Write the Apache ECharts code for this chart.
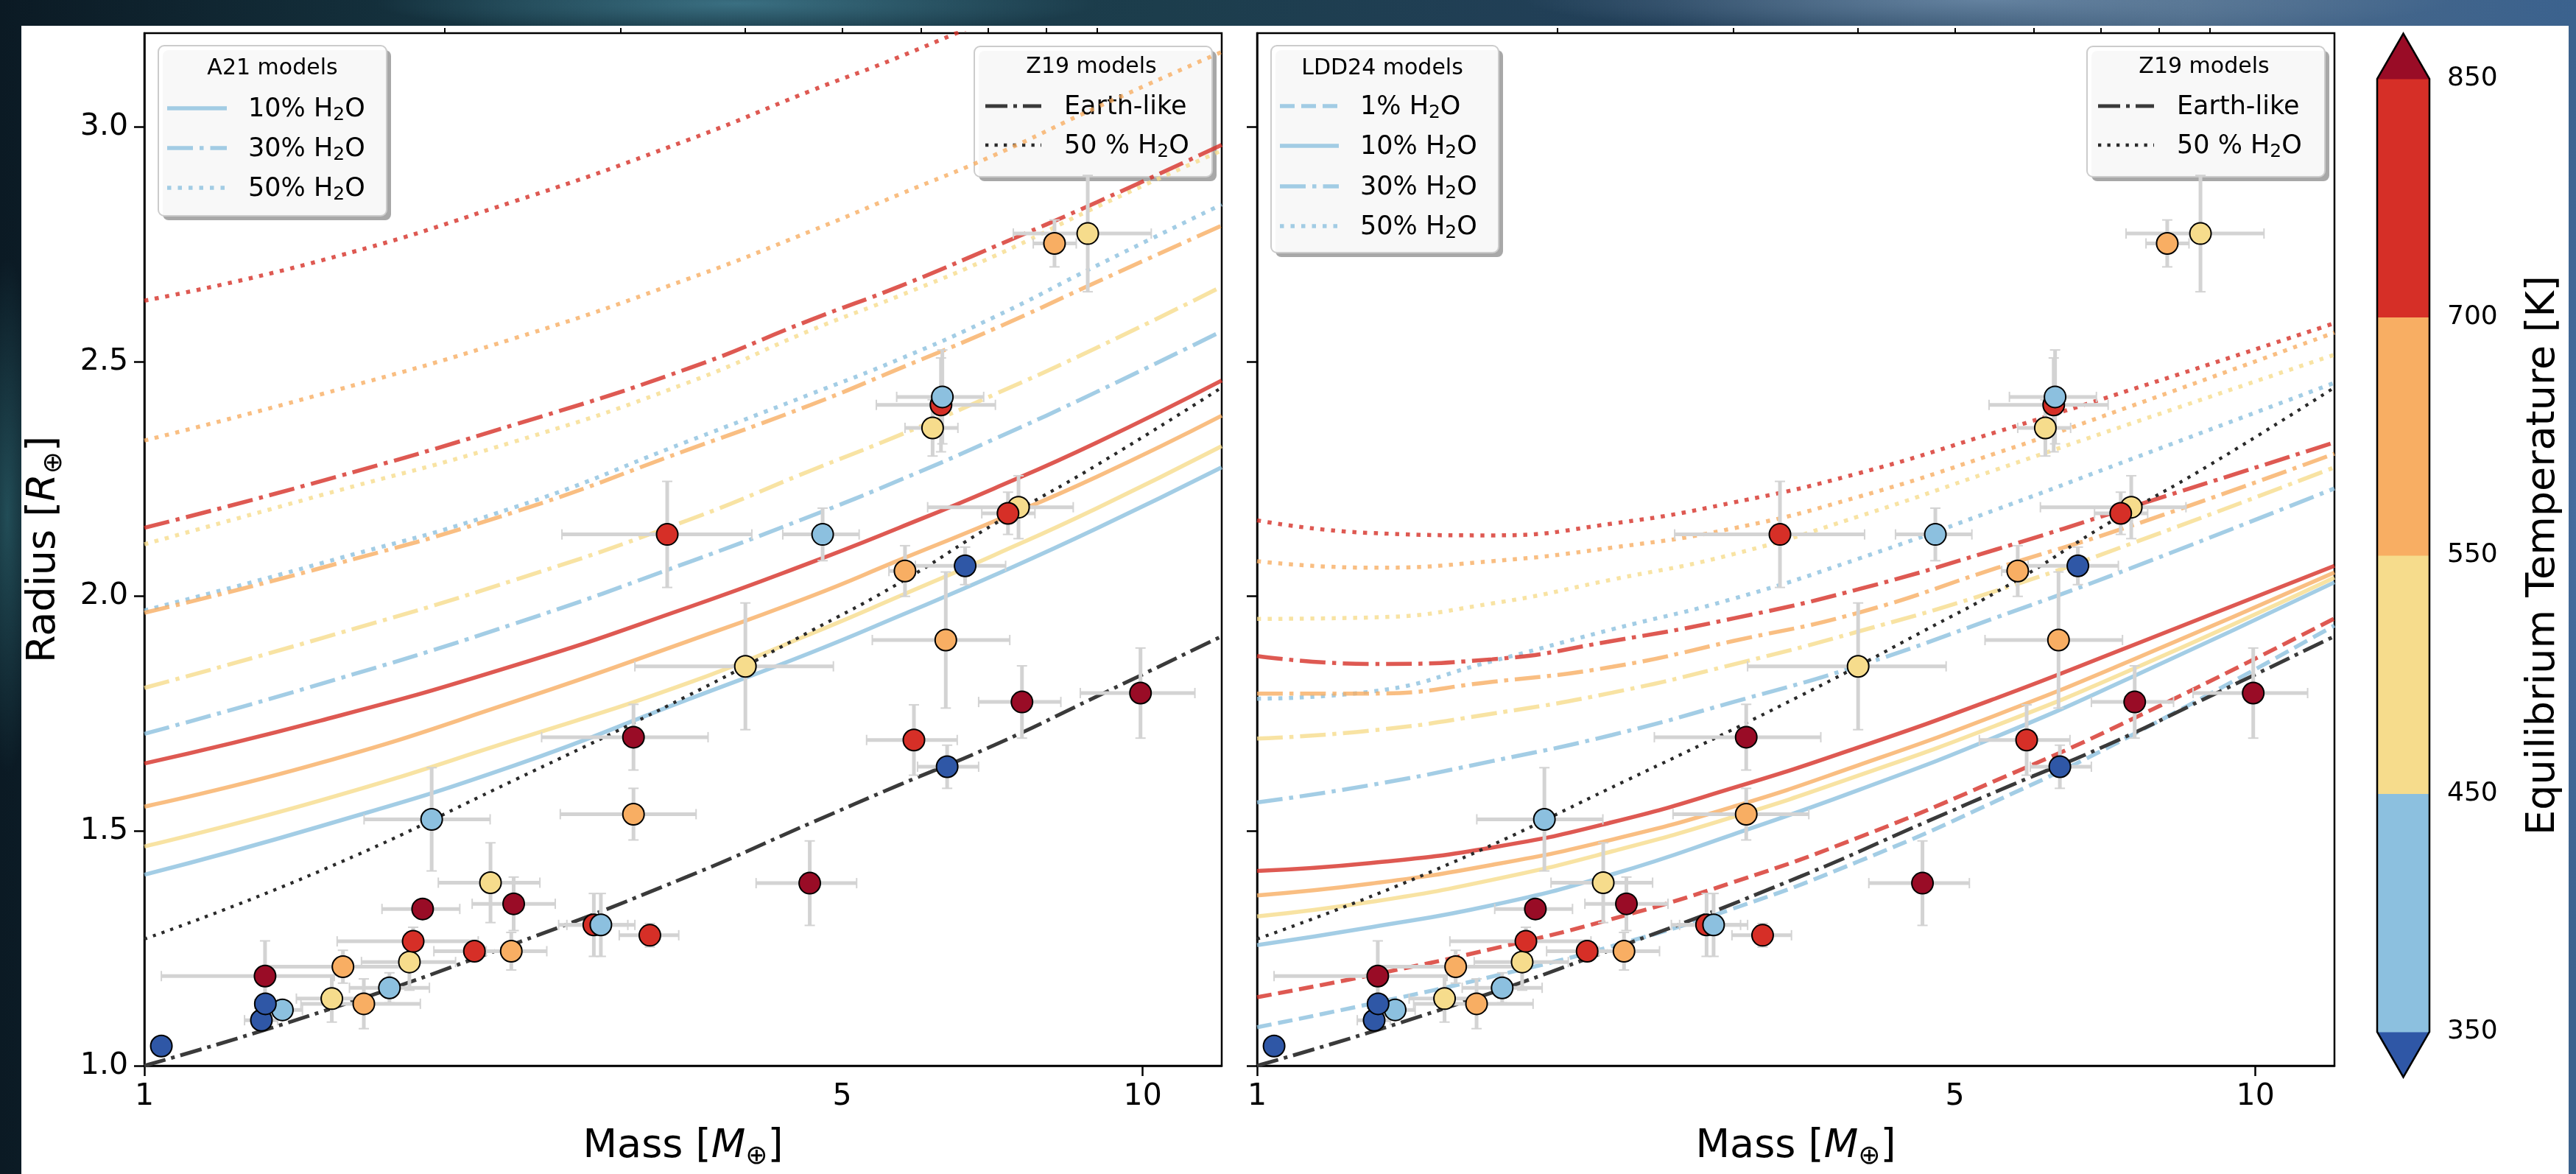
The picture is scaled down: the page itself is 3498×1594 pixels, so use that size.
<!DOCTYPE html>
<html>
<head>
<meta charset="utf-8">
<script src="https://cdn.jsdelivr.net/npm/echarts@6/dist/echarts.min.js"></script>
<style>
html,body{margin:0;padding:0;width:3498px;height:1594px;overflow:hidden;background:#0f2230;}
#bg{position:absolute;left:0;top:0;width:3498px;height:1594px;
 background:
  radial-gradient(ellipse 700px 60px at 1000px 5px, rgba(70,130,150,0.75), rgba(0,0,0,0) 70%),
  radial-gradient(ellipse 900px 70px at 2700px 0px, rgba(110,140,170,0.8), rgba(0,0,0,0) 70%),
  radial-gradient(ellipse 60px 500px at 10px 700px, rgba(40,90,100,0.8), rgba(0,0,0,0) 70%),
  radial-gradient(ellipse 60px 900px at 3498px 700px, rgba(70,110,160,0.9), rgba(0,0,0,0) 70%),
  linear-gradient(90deg, #0b1a24 0%, #173744 20%, #1c3d4c 45%, #23405a 65%, #4a6886 85%, #3b628e 100%);}
#paper{position:absolute;left:29px;top:35px;width:3459px;height:1559px;background:#fff;}
#chart{position:absolute;left:0;top:0;width:3498px;height:1594px;}
</style>
</head>
<body>
<div id="bg"></div>
<div id="paper"></div>
<div id="chart"></div>
<script>
// colour classes (equilibrium temperature, K)
var tempBounds = [350, 450, 550, 700, 850];
var classColors = ['#2f57a6', '#8cc0df', '#f6dc8c', '#f8ae63', '#d62f27', '#990c26'];

// planets: mass [M_earth], radius [R_earth], error bars, Teq
var planetMass   = [1.04, 1.31, 1.375, 1.322, 1.321, 1.541, 1.659, 1.581, 1.76, 1.843, 1.859, 1.90, 2.141, 2.331, 2.222, 2.344, 1.94, 2.82, 2.866, 3.209, 3.09, 3.09, 4.0, 4.64, 5.9, 6.37, 6.35, 7.57, 9.95, 3.34, 4.78, 5.78, 6.64, 7.51, 7.33, 6.16, 6.28, 6.3, 8.16, 8.81];
var planetRadius = [1.042, 1.097, 1.119, 1.132, 1.191, 1.143, 1.132, 1.211, 1.166, 1.221, 1.265, 1.334, 1.244, 1.244, 1.39, 1.345, 1.525, 1.30, 1.30, 1.278, 1.536, 1.70, 1.851, 1.389, 1.694, 1.637, 1.907, 1.775, 1.794, 2.132, 2.132, 2.054, 2.065, 2.19, 2.177, 2.359, 2.408, 2.425, 2.752, 2.773];
var massLow      = [1.02, 1.26, 1.33, 1.29, 1.04, 1.42, 1.435, 1.32, 1.605, 1.65, 1.56, 1.73, 1.95, 2.2, 1.97, 2.13, 1.66, 2.6, 2.65, 2.99, 2.61, 2.5, 3.1, 4.1, 5.29, 5.95, 5.36, 6.85, 8.66, 2.62, 4.36, 5.57, 5.92, 6.09, 6.9, 5.78, 5.41, 5.67, 7.77, 7.42];
var massHigh     = [1.06, 1.36, 1.44, 1.36, 1.55, 1.67, 1.89, 1.83, 1.93, 2.05, 2.16, 2.07, 2.35, 2.53, 2.49, 2.58, 2.22, 3.05, 3.1, 3.43, 3.57, 3.67, 4.9, 5.17, 6.52, 6.85, 7.36, 8.28, 11.28, 4.06, 5.2, 5.92, 7.29, 8.52, 7.8, 6.53, 7.12, 6.93, 8.58, 10.2];
var radiusErr    = [0.01, 0.015, 0.02, 0.02, 0.075, 0.05, 0.053, 0.035, 0.032, 0.06, 0.03, 0.02, 0.02, 0.04, 0.085, 0.057, 0.11, 0.067, 0.067, 0.025, 0.055, 0.07, 0.135, 0.09, 0.075, 0.046, 0.145, 0.077, 0.096, 0.113, 0.056, 0.054, 0.04, 0.067, 0.045, 0.06, 0.1, 0.1, 0.05, 0.124];
var planetTeq    = [300, 300, 400, 300, 900, 500, 620, 620, 400, 500, 770, 900, 770, 620, 500, 900, 400, 770, 400, 770, 620, 900, 500, 900, 770, 300, 620, 900, 900, 770, 400, 620, 300, 500, 770, 500, 770, 400, 620, 500];

// model curve temperatures (light blue, yellow, orange, red)
var modelTemps = [400, 500, 620, 770];

// A21 models (left panel)
var a21Mass = [1, 1.5, 2.35, 3.5, 4.65, 5.7, 7.1, 9, 12];
var a21W10 = [
  [1.407, 1.51, 1.64, 1.78, 1.88, 1.958, 2.045, 2.145, 2.275],
  [1.467, 1.565, 1.694, 1.815, 1.92, 2.0, 2.088, 2.188, 2.32],
  [1.552, 1.645, 1.776, 1.904, 2.0, 2.077, 2.16, 2.255, 2.385],
  [1.644, 1.735, 1.853, 1.976, 2.072, 2.146, 2.23, 2.328, 2.46]
];
var a21W30 = [
  [1.707, 1.813, 1.942, 2.072, 2.171, 2.247, 2.335, 2.436, 2.565],
  [1.805, 1.91, 2.035, 2.162, 2.268, 2.343, 2.43, 2.53, 2.66],
  [1.965, 2.06, 2.18, 2.312, 2.408, 2.485, 2.57, 2.67, 2.79],
  [2.146, 2.245, 2.366, 2.485, 2.589, 2.66, 2.745, 2.84, 2.962]
];
var a21W50 = [
  [1.97, 2.07, 2.19, 2.33, 2.431, 2.505, 2.595, 2.705, 2.835],
  [2.111, 2.215, 2.33, 2.455, 2.567, 2.64, 2.725, 2.83, 2.95],
  [2.332, 2.43, 2.55, 2.676, 2.778, 2.856, 2.94, 3.042, 3.16],
  [2.63, 2.715, 2.842, 2.972, 3.077, 3.149, 3.235, null, null]
];

// Z19 models (both panels)
var z19Mass = [1, 1.5, 2.35, 3.5, 4.65, 5.7, 7.1, 9, 12];
var z19Earth = [1.0, 1.114, 1.26, 1.403, 1.517, 1.598, 1.683, 1.787, 1.915];
var z19Water50 = [1.27, 1.415, 1.609, 1.788, 1.926, 2.028, 2.154, 2.28, 2.445];

// LDD24 models (right panel)
var lddMass = [1, 1.3, 1.72, 2.27, 3.0, 4.0, 5.5, 7.5, 12];
var lddW1Temps = [400, 770];
var lddW1 = [
  [1.082, 1.132, 1.19, 1.255, 1.335, 1.435, 1.564, 1.703, 1.938],
  [1.146, 1.193, 1.249, 1.313, 1.391, 1.486, 1.608, 1.737, 1.953]
];
var lddW10 = [
  [1.257, 1.295, 1.342, 1.408, 1.493, 1.587, 1.701, 1.827, 2.03],
  [1.318, 1.349, 1.396, 1.457, 1.53, 1.618, 1.725, 1.843, 2.04],
  [1.363, 1.388, 1.428, 1.482, 1.552, 1.64, 1.747, 1.863, 2.051],
  [1.415, 1.432, 1.465, 1.519, 1.592, 1.678, 1.783, 1.894, 2.065]
];
var lddW30 = [
  [1.561, 1.598, 1.649, 1.705, 1.775, 1.852, 1.955, 2.06, 2.23],
  [1.697, 1.714, 1.75, 1.795, 1.855, 1.925, 2.012, 2.112, 2.275],
  [1.793, 1.793, 1.818, 1.85, 1.905, 1.965, 2.06, 2.15, 2.304],
  [1.873, 1.856, 1.866, 1.905, 1.953, 2.015, 2.1, 2.19, 2.328]
];
var lddW50 = [
  [1.782, 1.797, 1.862, 1.93, 1.995, 2.08, 2.185, 2.292, 2.455],
  [1.952, 1.955, 1.985, 2.036, 2.09, 2.17, 2.27, 2.368, 2.515],
  [2.075, 2.061, 2.075, 2.104, 2.145, 2.212, 2.305, 2.405, 2.562],
  [2.162, 2.135, 2.13, 2.155, 2.2, 2.262, 2.35, 2.44, 2.582]
];

// axis ticks
var massLabels = [1, 5, 10];
var massMajor = [1, 10];
var massMinor = [2, 3, 4, 5, 6, 7, 8, 9];
var radiusTicks = [1.0, 1.5, 2.0, 2.5, 3.0];

var FONT = 'DejaVu Sans';
var DASH = [20, 9], DASHDOT = [35, 9, 5.5, 9], DOT = [5.5, 9];
var LW = 5.5;

function tempColor(t) {
  var i = 0;
  while (i < tempBounds.length && t >= tempBounds[i]) i++;
  return classColors[i];
}

function curve(mass, radius, color, dash, width, gi, opacity) {
  return {
    type: 'line', xAxisIndex: gi * 2, yAxisIndex: gi,
    data: mass.map(function (m, i) { return [m, radius[i]]; }),
    symbol: 'none', showSymbol: false, smooth: 0.5,
    silent: true, z: 2, connectNulls: false,
    lineStyle: { color: color, width: width, type: dash, cap: 'butt', opacity: opacity }
  };
}

function renderErr(params, api) {
  var m = api.value(0), r = api.value(1), lo = api.value(2), hi = api.value(3), e = api.value(4);
  var l = api.coord([lo, r]), rr = api.coord([hi, r]);
  var t = api.coord([m, r + e]), b = api.coord([m, r - e]);
  var st = { stroke: '#d3d3d3', lineWidth: 5 };
  var cs = { stroke: '#d3d3d3', lineWidth: 2 };
  var c = 7;
  return { type: 'group', children: [
    { type: 'line', shape: { x1: l[0], y1: l[1], x2: rr[0], y2: rr[1] }, style: st },
    { type: 'line', shape: { x1: t[0], y1: t[1], x2: b[0], y2: b[1] }, style: st },
    { type: 'line', shape: { x1: l[0], y1: l[1] - c, x2: l[0], y2: l[1] + c }, style: cs },
    { type: 'line', shape: { x1: rr[0], y1: rr[1] - c, x2: rr[0], y2: rr[1] + c }, style: cs },
    { type: 'line', shape: { x1: t[0] - c, y1: t[1], x2: t[0] + c, y2: t[1] }, style: cs },
    { type: 'line', shape: { x1: b[0] - c, y1: b[1], x2: b[0] + c, y2: b[1] }, style: cs }
  ] };
}

function planetSeries(gi) {
  return [{
    type: 'custom', xAxisIndex: gi * 2, yAxisIndex: gi, silent: true, z: 4, clip: true,
    data: planetMass.map(function (m, i) { return [m, planetRadius[i], massLow[i], massHigh[i], radiusErr[i]]; }),
    encode: { x: 0, y: 1 },
    renderItem: renderErr
  }, {
    type: 'scatter', xAxisIndex: gi * 2, yAxisIndex: gi, silent: true, z: 5,
    data: planetMass.map(function (m, i) { return [m, planetRadius[i], planetTeq[i]]; }),
    symbolSize: 29,
    itemStyle: { color: function (p) { return tempColor(p.value[2]); }, borderColor: '#000', borderWidth: 2, opacity: 1 }
  }];
}

var series = [];
// left panel: A21
modelTemps.forEach(function (t, k) {
  var col = tempColor(t);
  series.push(curve(a21Mass, a21W10[k], col, 'solid', LW, 0, 0.8));
  series.push(curve(a21Mass, a21W30[k], col, DASHDOT, LW, 0, 0.8));
  series.push(curve(a21Mass, a21W50[k], col, DOT, LW, 0, 0.8));
});
// right panel: LDD24
modelTemps.forEach(function (t, k) {
  var col = tempColor(t);
  series.push(curve(lddMass, lddW10[k], col, 'solid', LW, 1, 0.8));
  series.push(curve(lddMass, lddW30[k], col, DASHDOT, LW, 1, 0.8));
  series.push(curve(lddMass, lddW50[k], col, DOT, LW, 1, 0.8));
});
lddW1Temps.forEach(function (t, k) {
  series.push(curve(lddMass, lddW1[k], tempColor(t), DASH, LW, 1, 0.8));
});
// Z19 on both panels
[0, 1].forEach(function (gi) {
  series.push(curve(z19Mass, z19Earth, '#3a3a3a', [30, 8, 5, 8], 5, gi, 1));
  series.push(curve(z19Mass, z19Water50, '#2a2a2a', [4.3, 8.2], 4.3, gi, 1));
  series = series.concat(planetSeries(gi));
});

// colour bar
var TIP = 0.19;
var NSEG = tempBounds.length - 1;
series.push({
  type: 'custom', xAxisIndex: 4, yAxisIndex: 2, silent: true, clip: false, z: 3,
  data: classColors.map(function (c, i) { return [0.5, i]; }),
  encode: { x: 0, y: 1 },
  renderItem: function (params, api) {
    var i = params.dataIndex, pts;
    if (i === 0) pts = [[0, 0], [1, 0], [0.5, -TIP]];
    else if (i === classColors.length - 1) pts = [[0, NSEG], [1, NSEG], [0.5, NSEG + TIP]];
    else pts = [[0, i - 1], [1, i - 1], [1, i], [0, i]];
    return { type: 'polygon', shape: { points: pts.map(function (p) { return api.coord(p); }) },
      style: { fill: classColors[i], stroke: classColors[i], lineWidth: 1 } };
  }
});
series.push({
  type: 'custom', xAxisIndex: 4, yAxisIndex: 2, silent: true, clip: false, z: 4,
  data: [[0.5, 0]], encode: { x: 0, y: 1 },
  renderItem: function (params, api) {
    var pts = [[0, 0], [0.5, -TIP], [1, 0], [1, NSEG], [0.5, NSEG + TIP], [0, NSEG]];
    return { type: 'polygon', shape: { points: pts.map(function (p) { return api.coord(p); }) },
      style: { fill: 'none', stroke: '#000', lineWidth: 2.5 } };
  }
});

// legends (graphic)
var legendRich = {
  a: { fontSize: 35, fontFamily: FONT, fill: '#000', lineHeight: 40 },
  s: { fontSize: 25, fontFamily: FONT, fill: '#000', lineHeight: 24, verticalAlign: 'bottom' }
};
function legend(x, y, w, h, title, tx, ty, textX, sx1, sx2, entries) {
  var ch = [
    { type: 'rect', shape: { x: x + 6, y: y + 6, width: w, height: h, r: 8 }, style: { fill: '#a8a8a8' } },
    { type: 'rect', shape: { x: x, y: y, width: w, height: h, r: 8 }, style: { fill: 'rgba(255,255,255,0.92)', stroke: '#cccccc', lineWidth: 2 } },
    { type: 'text', style: { text: title, x: tx, y: ty, fontSize: 30, fontFamily: FONT, fill: '#000', textAlign: 'center', textVerticalAlign: 'middle' } }
  ];
  entries.forEach(function (e) {
    ch.push({ type: 'line', shape: { x1: sx1, y1: e.y, x2: sx2, y2: e.y },
      style: { stroke: e.color, lineWidth: e.lw, lineDash: e.dash, opacity: e.op } });
    ch.push({ type: 'text', style: { text: e.text, rich: legendRich, x: textX, y: e.y + 2, fill: '#000', textAlign: 'left', textVerticalAlign: 'middle' } });
  });
  return { type: 'group', z: 100, children: ch };
}
var lb = tempColor(400);
function h2o(p) { return '{a|' + p + ' H}{s|2}{a|O}'; }
var graphics = [
  legend(215, 62, 310, 231, 'A21 models', 370, 93, 337, 227, 308, [
    { y: 147, color: lb, lw: LW, dash: null, op: 0.8, text: h2o('10%') },
    { y: 201, color: lb, lw: LW, dash: DASHDOT, op: 0.8, text: h2o('30%') },
    { y: 255, color: lb, lw: LW, dash: DOT, op: 0.8, text: h2o('50%') }
  ]),
  legend(1726, 62, 309, 281, 'LDD24 models', 1877, 93, 1847, 1738, 1818, [
    { y: 144, color: lb, lw: LW, dash: DASH, op: 0.8, text: h2o('1%') },
    { y: 198, color: lb, lw: LW, dash: null, op: 0.8, text: h2o('10%') },
    { y: 253, color: lb, lw: LW, dash: DASHDOT, op: 0.8, text: h2o('30%') },
    { y: 307, color: lb, lw: LW, dash: DOT, op: 0.8, text: h2o('50%') }
  ])
];
[0, 1511].forEach(function (dx) {
  graphics.push(legend(1323 + dx, 63, 323, 177, 'Z19 models', 1482 + dx, 91, 1445 + dx, 1338 + dx, 1414 + dx, [
    { y: 144, color: '#3a3a3a', lw: 5, dash: [30, 8, 5, 8], op: 1, text: '{a|Earth-like}' },
    { y: 197, color: '#2a2a2a', lw: 4.3, dash: [4.3, 8.2], op: 1, text: h2o('50 %') }
  ]));
});

var titleRich = {
  t: { fontSize: 54, fontFamily: FONT, color: '#000', lineHeight: 64 },
  i: { fontSize: 54, fontFamily: FONT, fontStyle: 'italic', color: '#000', lineHeight: 64 },
  s: { fontSize: 36, fontFamily: FONT, color: '#000', lineHeight: 36, verticalAlign: 'bottom' }
};

function massAxes(gi) {
  return [{
    type: 'log', logBase: 10, gridIndex: gi, min: 1, max: 12,
    axisLine: { show: true, lineStyle: { color: '#000', width: 2.5 } },
    axisTick: { show: true, customValues: massMajor, length: 14, lineStyle: { color: '#000', width: 2.5 } },
    axisLabel: { show: true, customValues: massLabels, fontSize: 41, fontFamily: FONT, color: '#000', margin: 22,
      formatter: function (v) { return String(Math.round(v)); } },
    splitLine: { show: false }, minorTick: { show: false },
    name: '{t|Mass [}{i|M}{s|\u2295}{t|]}', nameLocation: 'middle', nameGap: 78,
    nameTextStyle: { rich: titleRich }
  }, {
    type: 'log', logBase: 10, gridIndex: gi, min: 1, max: 12,
    axisLine: { show: false },
    axisTick: { show: true, customValues: massMinor, length: 7, lineStyle: { color: '#000', width: 2 } },
    axisLabel: { show: false }, splitLine: { show: false }
  }];
}

function radiusAxis(gi, labels) {
  var ax = {
    type: 'value', gridIndex: gi, min: 1.0, max: 3.2,
    axisLine: { show: true, lineStyle: { color: '#000', width: 2.5 } },
    axisTick: { show: true, customValues: radiusTicks, length: 14, lineStyle: { color: '#000', width: 2.5 } },
    axisLabel: { show: labels, customValues: radiusTicks, fontSize: 41, fontFamily: FONT, color: '#000', margin: 22,
      formatter: function (v) { return v.toFixed(1); } },
    splitLine: { show: false }
  };
  if (labels) {
    ax.name = '{t|Radius [}{i|R}{s|\u2295}{t|]}';
    ax.nameLocation = 'middle';
    ax.nameGap = 104;
    ax.nameTextStyle = { rich: titleRich };
  }
  return ax;
}

var gridStyle = { show: true, borderColor: '#000', borderWidth: 2.5, backgroundColor: '#fff' };
var option = {
  animation: false,
  backgroundColor: 'transparent',
  textStyle: { fontFamily: FONT },
  grid: [
    Object.assign({ left: 196, top: 45, width: 1463, height: 1420 }, gridStyle),
    Object.assign({ left: 1707, top: 45, width: 1463, height: 1420 }, gridStyle),
    { left: 3228, top: 107, width: 71, height: 1294, show: false }
  ],
  xAxis: massAxes(0).concat(massAxes(1)).concat([{ type: 'value', gridIndex: 2, min: 0, max: 1, show: false }]),
  yAxis: [
    radiusAxis(0, true),
    radiusAxis(1, false),
    {
      type: 'value', gridIndex: 2, min: 0, max: NSEG, position: 'right',
      axisLine: { show: false },
      axisTick: { show: true, customValues: [0, 1, 2, 3, 4], length: 11, lineStyle: { color: '#000', width: 2 } },
      axisLabel: { show: true, customValues: [0, 1, 2, 3, 4], fontSize: 36, fontFamily: FONT, color: '#000', margin: 24,
        formatter: function (v) { return String(tempBounds[Math.round(v)]); } },
      splitLine: { show: false },
      name: 'Equilibrium Temperature [K]', nameLocation: 'middle', nameGap: 128, nameRotate: 90,
      nameTextStyle: { fontSize: 54, fontFamily: FONT, color: '#000' }
    }
  ],
  graphic: { elements: graphics },
  series: series
};

var chart = echarts.init(document.getElementById('chart'), null, { renderer: 'canvas' });
chart.setOption(option);
</script>
</body>
</html>
